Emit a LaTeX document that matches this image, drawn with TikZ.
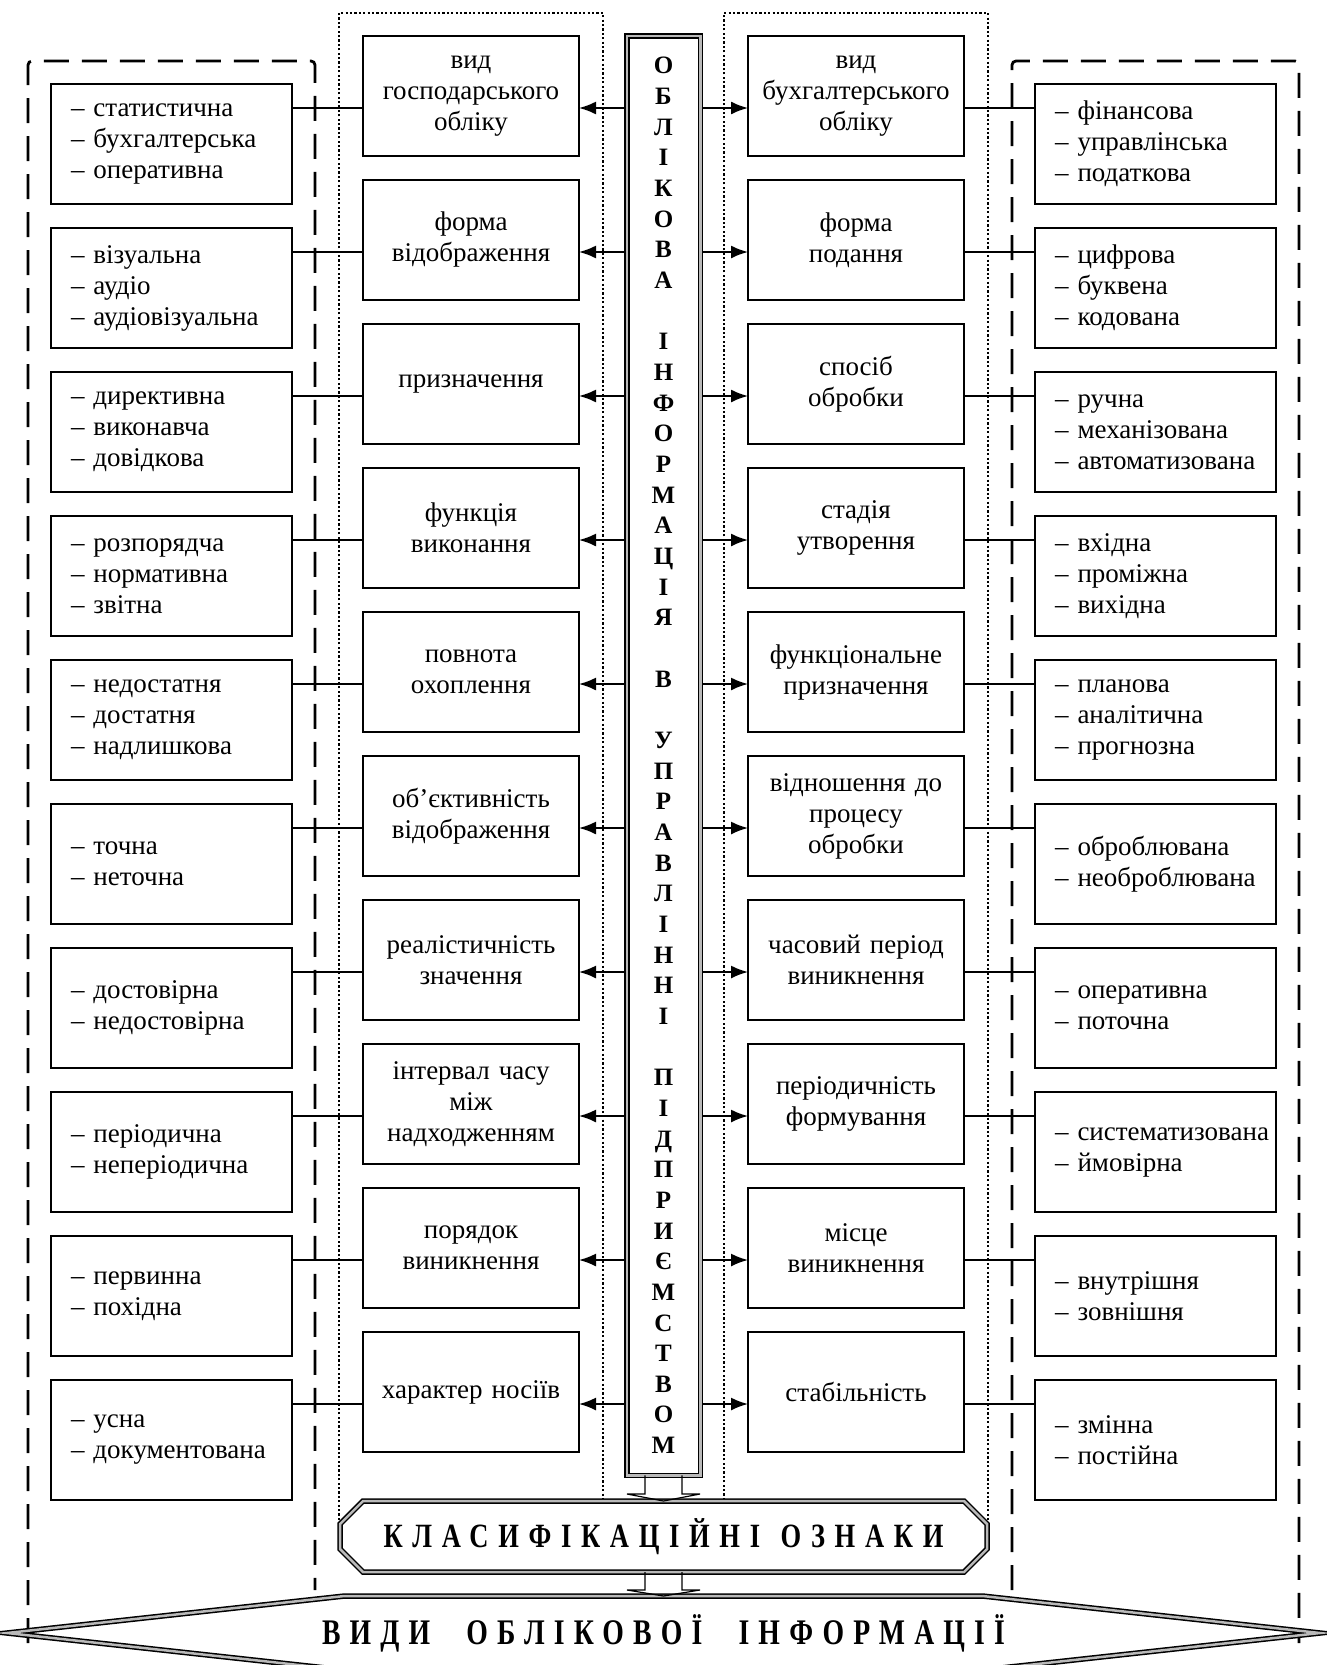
\documentclass[tikz,border=0pt]{standalone}
\usepackage{fontspec}
\setmainfont{Liberation Serif}
\newfontfamily\signfont[LetterSpace=28.5, FakeStretch=0.78]{Liberation Serif}
\newfontfamily\kindfont[LetterSpace=25.5, FakeStretch=0.77]{Liberation Serif}
\usetikzlibrary{arrows.meta,positioning}
\tikzset{
    %Define standard arrow tip
    >={Latex[length=8.5pt,width=6.5pt]},
    %Define style for the feature boxes
    feature/.style={
      rectangle,
      draw=black, line width=0.75pt,
      minimum width=108pt,
      minimum height=60pt,
      text width=104pt,
      inner sep=0pt, outer sep=0pt,
      font=\fontsize{13.5}{15.5}\selectfont,
      align=center},
    %Define style for the kind boxes
    kind/.style={
      feature,
      minimum width=120.5pt,
      text width=100.5pt,
      align=left},
    %Double framed shapes
    twin/.style={
      draw=black, line width=0.75pt,
      double=gray!55, double distance=1.25pt},
    % Define arrow style
    arr/.style={
      ->,
      line width=0.9pt,
      shorten <=1.5pt},
    link/.style={line width=0.6pt},
    blockarr/.style={draw=black, line width=0.6pt},
    dashframe/.style={line width=1.4pt, dash pattern=on 12.5pt off 6.5pt,
      rounded corners=2pt},
    dotframe/.style={line width=1.1pt, dash pattern=on 1.1pt off 1.1pt}
}
\begin{document}
\begin{tikzpicture}[x=0.5pt, y=-0.5pt]
    \useasboundingbox (0,0) rectangle (1327,1665);
    \clip (0,0) rectangle (1327,1665);

    % group frames
    \draw[dashframe] (28,1643) |- (315,61) -- (315,1590);
    \draw[dashframe] (1012,1590) |- (1299,61) -- (1299,1643);
    \draw[dotframe] (339,1520) |- (603,13) -- (603,1500);
    \draw[dotframe] (724,1500) |- (988,13) -- (988,1520);

    % middle column
    \node[twin, minimum width=36.75pt, minimum height=719.75pt,
      inner sep=0pt, outer sep=0pt, align=center,
      font=\bfseries\fontsize{12.5}{15.33}\selectfont] (col) at (663.5,755.5)
      {О\\Б\\Л\\І\\К\\О\\В\\А\\[15.33pt]
       І\\Н\\Ф\\О\\Р\\М\\А\\Ц\\І\\Я\\[15.33pt]
       В\\[15.33pt]
       У\\П\\Р\\А\\В\\Л\\І\\Н\\Н\\І\\[15.33pt]
       П\\І\\Д\\П\\Р\\И\\Є\\М\\С\\Т\\В\\О\\М};

    % rows of features and kinds
    \foreach \i/\ltxt/\ftxt/\gtxt/\rtxt in {
      1/{– статистична\\– бухгалтерська\\– оперативна}/{вид\\господарського\\обліку}/{вид\\бухгалтерського\\обліку}/{– фінансова\\– управлінська\\– податкова},
      2/{– візуальна\\– аудіо\\– аудіовізуальна}/{форма\\відображення}/{форма\\подання}/{– цифрова\\– буквена\\– кодована},
      3/{– директивна\\– виконавча\\– довідкова}/{призначення}/{спосіб\\обробки}/{– ручна\\– механізована\\– автоматизована},
      4/{– розпорядча\\– нормативна\\– звітна}/{функція\\виконання}/{стадія\\утворення}/{– вхідна\\– проміжна\\– вихідна},
      5/{– недостатня\\– достатня\\– надлишкова}/{повнота\\охоплення}/{функціональне\\призначення}/{– планова\\– аналітична\\– прогнозна},
      6/{– точна\\– неточна}/{об’єктивність\\відображення}/{відношення до\\процесу\\обробки}/{– оброблювана\\– необроблювана},
      7/{– достовірна\\– недостовірна}/{реалістичність\\значення}/{часовий період\\виникнення}/{– оперативна\\– поточна},
      8/{– періодична\\– неперіодична}/{інтервал часу\\між\\надходженням}/{періодичність\\формування}/{\mbox{– систематизована}\\– ймовірна},
      9/{– первинна\\– похідна}/{порядок\\виникнення}/{місце\\виникнення}/{– внутрішня\\– зовнішня},
      10/{– усна\\– документована}/{характер носіїв}/{стабільність}/{– змінна\\– постійна}}
    {
      \node[feature] (ml\i) at (471,{96+144*(\i-1)}) {\ftxt};
      \node[feature, right=84.5pt of ml\i] (mr\i) {\gtxt};
      \node[kind, left=35.5pt of ml\i, yshift=-24pt] (ll\i) {\ltxt};
      \node[kind, right=35.5pt of mr\i, yshift=-24pt] (rr\i) {\rtxt};

      \draw[link] ([yshift=-6pt]ml\i.west) -- ([yshift=-6pt]ml\i.west -| ll\i.east);
      \draw[link] ([yshift=-6pt]mr\i.east) -- ([yshift=-6pt]mr\i.east -| rr\i.west);
      \draw[arr] ([yshift=-6pt]ml\i.east -| col.west) -- ([yshift=-6pt]ml\i.east);
      \draw[arr] ([yshift=-6pt]mr\i.west -| col.east) -- ([yshift=-6pt]mr\i.west);
    }

    % classification signs
    \node[font=\signfont\bfseries\fontsize{17}{19}\selectfont,
      minimum width=323.5pt, minimum height=35.5pt,
      inner sep=0pt, outer sep=0pt] (okt) at (663.5,1536.5)
      {КЛАСИФІКАЦІЙНІ\hspace{10.3pt}ОЗНАКИ};
    \draw[twin] ([xshift=11.5pt]okt.north west) -- ([xshift=-11.5pt]okt.north east)
      -- ([yshift=-11.5pt]okt.north east) -- ([yshift=11.5pt]okt.south east)
      -- ([xshift=-11.5pt]okt.south east) -- ([xshift=11.5pt]okt.south west)
      -- ([yshift=11.5pt]okt.south west) -- ([yshift=-11.5pt]okt.north west) -- cycle;

    % kinds of accounting information
    \node[font=\kindfont\bfseries\fontsize{18}{20}\selectfont,
      minimum width=656.5pt, minimum height=37pt,
      inner sep=0pt, outer sep=0pt] (vydy) at (663.5,1633)
      {ВИДИ\hspace{18.1pt}ОБЛІКОВОЇ\hspace{18.1pt}ІНФОРМАЦІЇ};
    \draw[twin] (vydy.west) -- ([xshift=-159.5pt]vydy.north)
      -- ([xshift=159.5pt]vydy.north) -- (vydy.east)
      -- ([xshift=159.5pt]vydy.south) -- ([xshift=-159.5pt]vydy.south) -- cycle;

    % block arrows
    \draw[blockarr] ([xshift=-9.25pt]col.south)
      |- ([xshift=-18.25pt,yshift=3.5pt]okt.north) -- (okt.north)
      -- ([xshift=18.25pt,yshift=3.5pt]okt.north) -| ([xshift=9.25pt]col.south);
    \draw[blockarr] ([xshift=-9.25pt]okt.south)
      |- ([xshift=-18.25pt,yshift=3pt]vydy.north) -- (vydy.north)
      -- ([xshift=18.25pt,yshift=3pt]vydy.north) -| ([xshift=9.25pt]okt.south);
\end{tikzpicture}
\end{document}
